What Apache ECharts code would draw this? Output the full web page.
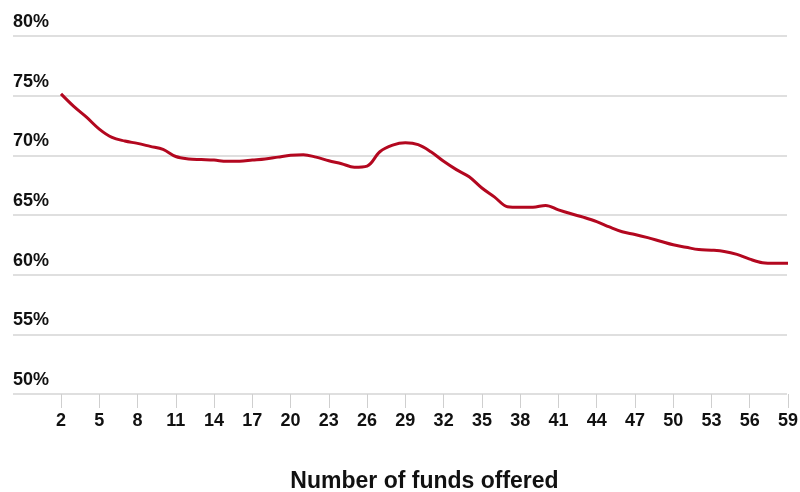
<!DOCTYPE html>
<html>
<head>
<meta charset="utf-8">
<title>Share by number of funds offered</title>
<script src="https://cdn.jsdelivr.net/npm/echarts@6/dist/echarts.min.js"></script>
<style>
  html, body { margin: 0; padding: 0; background: #ffffff; }
  #chart { width: 800px; height: 492px; }
</style>
</head>
<body>
<div id="chart"></div>
<script>
// Number of funds offered in the plan
const fundCounts = [
  2, 3, 4, 5, 6, 7, 8, 9, 10, 11, 12, 13, 14, 15, 16, 17, 18, 19, 20, 21,
  22, 23, 24, 25, 26, 27, 28, 29, 30, 31, 32, 33, 34, 35, 36, 37, 38, 39, 40, 41,
  42, 43, 44, 45, 46, 47, 48, 49, 50, 51, 52, 53, 54, 55, 56, 57, 58, 59
];

// Percentage for each fund count
const shareValues = [
  75.15, 74.1, 73.2, 72.2, 71.5, 71.2, 71.0, 70.75, 70.5, 69.9,
  69.7, 69.65, 69.6, 69.5, 69.5, 69.6, 69.7, 69.85, 70.0, 70.05,
  69.85, 69.55, 69.3, 69.0, 69.1, 70.3, 70.85, 71.05, 70.9, 70.3,
  69.5, 68.8, 68.2, 67.26, 66.5, 65.7, 65.65, 65.65, 65.8, 65.43,
  65.1, 64.8, 64.45, 64.0, 63.6, 63.37, 63.1, 62.8, 62.5, 62.3,
  62.1, 62.05, 61.95, 61.7, 61.3, 61.0, 60.95, 60.95
];

// Value-axis range and step (percent)
const yMin = 50;
const yMax = 80;
const yStep = 5;

const axisTitle = 'Number of funds offered';

const chart = echarts.init(document.getElementById('chart'), null, { renderer: 'canvas' });

chart.setOption({
  animation: false,
  backgroundColor: '#ffffff',
  grid: [
    // full-width grid carrying the horizontal reference lines and % labels
    { left: 13, right: 13, top: 36, bottom: 98, containLabel: false, outerBoundsMode: 'none' },
    // plotting grid for the series, aligned to the category ticks
    { left: 61, right: 12, top: 36, bottom: 98, containLabel: false, outerBoundsMode: 'none' }
  ],
  xAxis: [
    { gridIndex: 0, type: 'value', show: false, min: 0, max: 1 },
    {
      gridIndex: 1,
      type: 'category',
      data: fundCounts.map(String),
      boundaryGap: false,
      axisLine: { show: false },
      axisTick: {
        show: true,
        interval: 2,
        length: 14,
        lineStyle: { color: '#cfcfcf', width: 1 }
      },
      axisLabel: {
        interval: 2,
        margin: 18,
        color: '#111111',
        fontFamily: '"Liberation Sans Narrow", "Liberation Sans", Arial, sans-serif',
        fontWeight: 'bold',
        fontSize: 18
      },
      name: axisTitle,
      nameLocation: 'middle',
      nameGap: 76,
      nameTextStyle: {
        color: '#111111',
        fontFamily: '"Liberation Sans", Arial, sans-serif',
        fontWeight: 'bold',
        fontSize: 23
      }
    }
  ],
  yAxis: [
    {
      gridIndex: 0,
      type: 'value',
      min: yMin,
      max: yMax,
      interval: yStep,
      axisLine: { show: false },
      axisTick: { show: false },
      splitLine: { show: true, lineStyle: { color: '#d4d4d4', width: 1.5 } },
      axisLabel: {
        inside: true,
        margin: 0,
        align: 'left',
        verticalAlign: 'bottom',
        padding: [0, 0, 5, 0],
        formatter: '{value}%',
        color: '#111111',
        fontFamily: '"Liberation Sans", Arial, sans-serif',
        fontWeight: 'bold',
        fontSize: 18
      }
    },
    {
      gridIndex: 1,
      type: 'value',
      min: yMin,
      max: yMax,
      interval: yStep,
      show: false,
      splitLine: { show: false }
    }
  ],
  series: [
    {
      type: 'line',
      xAxisIndex: 1,
      yAxisIndex: 1,
      data: shareValues,
      smooth: 0.35,
      symbol: 'none',
      lineStyle: { color: '#b3071f', width: 3 },
      z: 5
    }
  ]
});
</script>
</body>
</html>
